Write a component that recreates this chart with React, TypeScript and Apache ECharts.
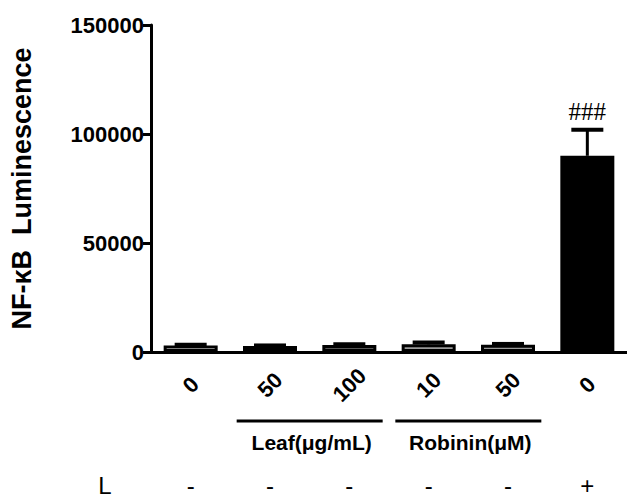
import React, { useEffect, useRef } from 'react';
import * as echarts from 'echarts';

const categories = ['0', '50', '100', '10', '50', '0'];
const values = [3000, 2700, 3200, 3500, 3300, 90000];
const errors = [300, 300, 400, 900, 400, 12000];
const fills = ['#ffffff', '#555555', '#555555', '#999999', '#999999', '#000000'];
const lRow = ['-', '-', '-', '-', '-', '+'];
const lLabel = 'L';
const groups = [
  { label: 'Leaf(μg/mL)', from: 1, to: 2 },
  { label: 'Robinin(μM)', from: 3, to: 4 },
];
const sigMarks = ['', '', '', '', '', '###'];
const yMin = 0;
const yMax = 150000;
const yInterval = 50000;

const FONT = 'Arial, "Liberation Sans", sans-serif';

export default function App() {
  const ref = useRef<HTMLDivElement>(null);
  useEffect(() => {
    if (!ref.current) return;
    const chart = echarts.init(ref.current, undefined, { renderer: 'svg' });
    chart.setOption({
      animation: false,
      backgroundColor: '#ffffff',
      grid: { left: 143, right: -8, top: 25, bottom: 148 },
      xAxis: {
        type: 'category',
        data: categories,
        axisLine: { lineStyle: { color: '#000', width: 3 } },
        axisTick: { alignWithLabel: true, length: 10, lineStyle: { color: '#000', width: 3 } },
        axisLabel: {
          rotate: 45,
          align: 'center',
          verticalAlign: 'middle',
          margin: 33,
          color: '#000',
          fontSize: 22,
          fontWeight: 'bold',
          fontFamily: FONT,
          interval: 0,
        },
      },
      yAxis: {
        type: 'value',
        min: yMin,
        max: yMax,
        interval: yInterval,
        name: 'NF-κB  Luminescence',
        nameLocation: 'middle',
        nameGap: 116,
        nameTextStyle: { color: '#000', fontSize: 27, fontWeight: 'bold', fontFamily: FONT },
        splitLine: { show: false },
        axisLine: { show: true, lineStyle: { color: '#000', width: 3 } },
        axisTick: { show: true, length: 8, lineStyle: { color: '#000', width: 3 } },
        axisLabel: {
          color: '#000',
          fontSize: 22,
          fontWeight: 'bold',
          fontFamily: FONT,
          margin: 7,
          formatter: (v: number) => String(v),
        },
      },
      series: [
        {
          type: 'bar',
          barWidth: 54,
          data: values.map((v, i) => ({
            value: v,
            itemStyle: { color: fills[i], borderColor: '#000', borderWidth: 3 },
          })),
        },
        {
          type: 'custom',
          z: 5,
          data: values.map((v, i) => [i, v, errors[i]]),
          renderItem: (params: any, api: any) => {
            const i = api.value(0);
            const v = api.value(1);
            const e = api.value(2);
            const base = api.coord([i, v]);
            const top = api.coord([i, v + e]);
            const children: any[] = [
              { type: 'line', shape: { x1: base[0], y1: base[1], x2: top[0], y2: top[1] }, style: { stroke: '#000', lineWidth: 3 } },
              { type: 'line', shape: { x1: top[0] - 16, y1: top[1], x2: top[0] + 16, y2: top[1] }, style: { stroke: '#000', lineWidth: 4 } },
            ];
            const mark = sigMarks[i];
            if (mark) {
              children.push({
                type: 'text',
                style: {
                  text: mark,
                  x: top[0],
                  y: top[1] - 6,
                  align: 'center',
                  verticalAlign: 'bottom',
                  fill: '#000',
                  font: 'normal 25px "Liberation Serif", "Times New Roman", serif',
                },
              });
            }
            return { type: 'group', children };
          },
        },
      ],
    });

    const y0 = chart.convertToPixel({ yAxisIndex: 0 }, 0) as number;
    const xs = categories.map((_, i) => chart.convertToPixel({ xAxisIndex: 0 }, i) as number);
    const graphic: any[] = [];
    groups.forEach((g) => {
      const mid = (xs[g.from] + xs[g.to]) / 2;
      graphic.push({
        type: 'line',
        shape: { x1: mid - 73, y1: y0 + 69, x2: mid + 73, y2: y0 + 69 },
        style: { stroke: '#000', lineWidth: 3 },
      });
      graphic.push({
        type: 'text',
        x: mid + 2,
        y: y0 + 90,
        style: {
          text: g.label,
          align: 'center',
          verticalAlign: 'middle',
          fill: '#000',
          font: `bold 21px ${FONT}`,
        },
      });
    });
    graphic.push({
      type: 'text',
      x: 105,
      y: y0 + 133,
      style: { text: lLabel, align: 'center', verticalAlign: 'middle', fill: '#000', font: `normal 24px ${FONT}` },
    });
    lRow.forEach((s, i) => {
      graphic.push({
        type: 'text',
        x: xs[i],
        y: y0 + 133,
        style: { text: s, align: 'center', verticalAlign: 'middle', fill: '#000', font: `normal 24px ${FONT}` },
      });
    });
    chart.setOption({ graphic });

    return () => chart.dispose();
  }, []);
  return <div ref={ref} style={{ position: 'fixed', left: 0, top: 0, width: 627, height: 500 }} />;
}
